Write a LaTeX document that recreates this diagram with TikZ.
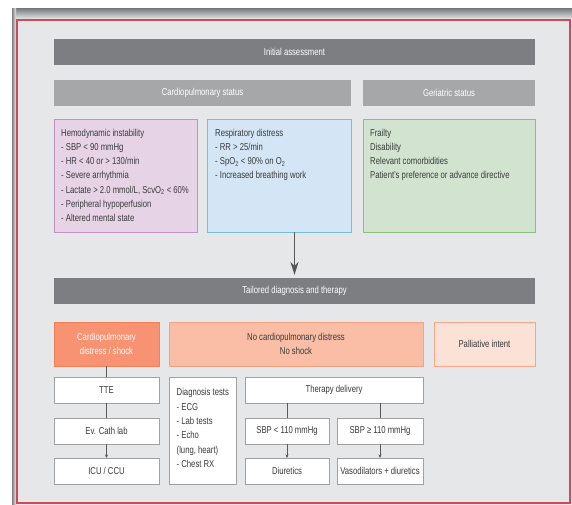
\documentclass[tikz,border=0pt]{standalone}
\usepackage{fontspec}
\setmainfont[FakeStretch=0.77]{Liberation Sans}
\usetikzlibrary{arrows.meta}
\definecolor{bgg}{HTML}{E6E7E9}
\definecolor{shadowc}{HTML}{808183}
\definecolor{redc}{HTML}{CC4B57}
\definecolor{darkbarc}{HTML}{7D7E81}
\definecolor{midbarc}{HTML}{A6A7A9}
\definecolor{txtc}{HTML}{3A3A3C}
\definecolor{linec}{HTML}{58595B}
\definecolor{purfill}{HTML}{E6D3E6}
\definecolor{purline}{HTML}{C490C6}
\definecolor{bluefill}{HTML}{D4E6F5}
\definecolor{blueline}{HTML}{73BDE8}
\definecolor{grnfill}{HTML}{D2E4CF}
\definecolor{grnline}{HTML}{85C283}
\definecolor{orAfill}{HTML}{F79272}
\definecolor{orAline}{HTML}{F47F57}
\definecolor{orBfill}{HTML}{F9BEA5}
\definecolor{orBline}{HTML}{F6A07F}
\definecolor{orCfill}{HTML}{FCE1D6}
\definecolor{orCline}{HTML}{F7A785}
\definecolor{wline}{HTML}{A0A1A3}
\begin{document}
\begin{tikzpicture}[x=1pt,y=-1pt,
  blk/.style={anchor=north west, inner sep=0pt, outer sep=0pt, align=center,
    font=\fontsize{10}{13.3}\selectfont},
  darkbar/.style={blk, fill=darkbarc, text=white},
  midbar/.style={blk, fill=midbarc, text=white},
  purbox/.style={blk, fill=purfill, draw=purline, line width=0.9pt},
  bluebox/.style={blk, fill=bluefill, draw=blueline, line width=0.9pt},
  grnbox/.style={blk, fill=grnfill, draw=grnline, line width=0.9pt},
  orA/.style={blk, fill=orAfill, draw=orAline, line width=0.9pt, text=white},
  orB/.style={blk, fill=orBfill, draw=orBline, line width=0.9pt, text=txtc},
  orC/.style={blk, fill=orCfill, draw=orCline, line width=0.9pt, text=txtc},
  wbox/.style={blk, fill=white, draw=wline, line width=0.8pt, text=txtc},
  listtext/.style={anchor=north west, inner sep=0pt, align=left, text=txtc,
    font=\fontsize{10}{14.3}\selectfont},
  conn/.style={draw=linec, line width=0.9pt},
  smallarr/.style={conn, -{Stealth[length=3.5pt,width=3pt]}},
  bigarr/.style={draw=linec, line width=1.8pt, -{Stealth[length=13pt,width=8pt,inset=4pt]}, shorten >=3pt}
]
\useasboundingbox (0,0) rectangle (572,505);
\fill[white] (0,0) rectangle (572,505);
\fill[bgg] (12,9) rectangle (572,505);
\shade[top color=shadowc, bottom color=bgg] (12,9) rectangle (572,19);
\shade[left color=shadowc, right color=bgg] (12,9) rectangle (16,505);
\draw[redc, line width=1.5pt] (17,20) rectangle (570,503);

% top section
\node[darkbar, minimum width=481pt, minimum height=26pt] (init) at (54,39) {Initial assessment};
\node[midbar, minimum width=297pt, minimum height=26pt] (cps) at (54,80) {Cardiopulmonary status};
\node[midbar, minimum width=172pt, minimum height=26pt] (gers) at (363,80) {Geriatric status};

\node[purbox, minimum width=143pt, minimum height=113pt] (hemo) at (54,119) {};
\node[listtext] (hemotxt) at ([xshift=7pt,yshift=-9.6pt]hemo.north west)
 {Hemodynamic instability\\- SBP < 90 mmHg\\- HR < 40 or > 130/min\\- Severe arrhythmia\\- Lactate > 2.0 mmol/L, ScvO\textsubscript{2} < 60\%\\- Peripheral hypoperfusion\\- Altered mental state};

\node[bluebox, minimum width=144pt, minimum height=113pt] (resp) at (207,119) {};
\node[listtext] (resptxt) at ([xshift=8pt,yshift=-9.6pt]resp.north west)
 {Respiratory distress\\- RR > 25/min\\- SpO\textsubscript{2} < 90\% on O\textsubscript{2}\\- Increased breathing work};

\node[grnbox, minimum width=172pt, minimum height=113pt] (gbox) at (363,119) {};
\node[listtext] (gtxt) at ([xshift=7pt,yshift=-9.6pt]gbox.north west)
 {Frailty\\Disability\\Relevant comorbidities\\Patient's preference or advance directive};

% lower section
\node[darkbar, minimum width=481pt, minimum height=26pt] (tail) at (54,278) {Tailored diagnosis and therapy};
\draw[bigarr] (tail.north |- resp.south) -- (tail.north);

\node[orA, minimum width=105pt, minimum height=44pt] (cpd) at (54,322) {Cardiopulmonary\\distress / shock};
\node[orB, minimum width=254pt, minimum height=44pt] (nocpd) at (169,322) {No cardiopulmonary distress\\No shock};
\node[orC, minimum width=101pt, minimum height=44pt] (pall) at (434,322) {Palliative intent};

\node[wbox, minimum width=105pt, minimum height=26pt] (tte) at (54,377) {TTE};
\node[wbox, minimum width=105pt, minimum height=26pt] (cath) at (54,418) {Ev. Cath lab};
\node[wbox, minimum width=105pt, minimum height=26pt] (icu) at (54,458) {ICU / CCU};

\node[wbox, minimum width=67pt, minimum height=107pt] (diag) at (169,377) {};
\node[listtext] (diagtxt) at ([xshift=7.5pt,yshift=-11.4pt]diag.north west)
 {Diagnosis tests\\- ECG\\- Lab tests\\- Echo\\(lung, heart)\\- Chest RX};

\node[wbox, minimum width=178pt, minimum height=26pt] (ther) at (245,377) {Therapy delivery};
\node[wbox, minimum width=84pt, minimum height=26pt] (sbpa) at (245,418) {SBP < 110 mmHg};
\node[wbox, minimum width=86pt, minimum height=26pt] (sbpb) at (337,418) {SBP ≥ 110 mmHg};
\node[wbox, minimum width=84pt, minimum height=26pt] (diur) at (245,458) {Diuretics};
\node[wbox, minimum width=86pt, minimum height=26pt] (vaso) at (337,458) {Vasodilators + diuretics};

\draw[conn] (cpd.south) -- (tte.north);
\draw[conn] (tte.south) -- (cath.north);
\draw[smallarr] (cath.south) -- (icu.north);
\draw[conn] (ther.south -| sbpa.north) -- (sbpa.north);
\draw[conn] (ther.south -| sbpb.north) -- (sbpb.north);
\draw[smallarr] (sbpa.south) -- (diur.north);
\draw[smallarr] (sbpb.south) -- (vaso.north);
\end{tikzpicture}
\end{document}
